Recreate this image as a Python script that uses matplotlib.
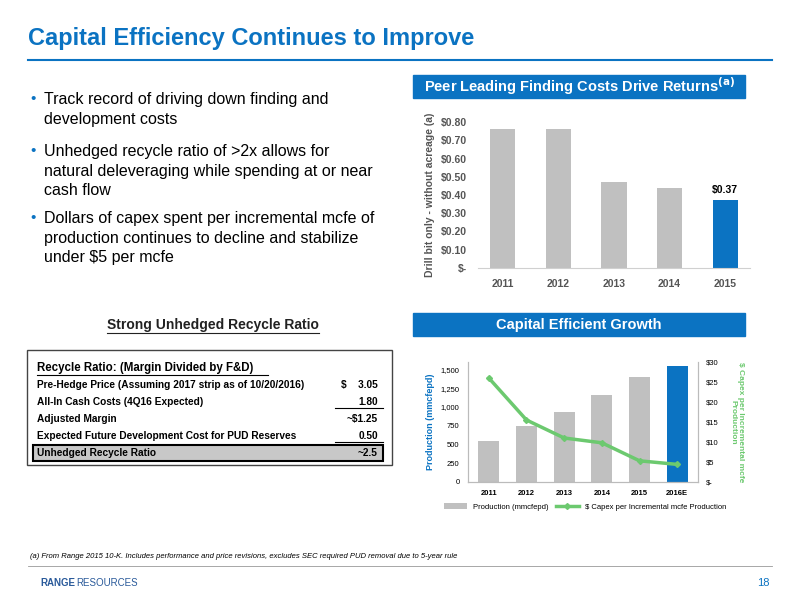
import numpy as np, matplotlib
matplotlib.use("Agg")
import matplotlib.pyplot as plt
from matplotlib.patches import Rectangle

plt.rcParams["font.family"] = ["Liberation Sans", "DejaVu Sans"]
BLUE = "#0b73c2"; GREY = "#c0c0c0"; GREEN = "#6cc96f"

fd_years = ["2011", "2012", "2013", "2014", "2015"]
fd_cost = [0.76, 0.76, 0.47, 0.44, 0.37]
prod_years = ["2011", "2012", "2013", "2014", "2015", "2016E"]
production = [550, 750, 930, 1160, 1400, 1550]
capex_per_mcfe = [26, 15.5, 11, 9.8, 5.3, 4.4]
table_rows = [("Pre-Hedge Price (Assuming 2017 strip as of 10/20/2016)", "$    3.05"),
              ("All-In Cash Costs (4Q16 Expected)", "1.80"),
              ("Adjusted Margin", "~$1.25"),
              ("Expected Future Development Cost for PUD Reserves", "0.50")]
bullets = ["Track record of driving down finding and\ndevelopment costs",
           "Unhedged recycle ratio of >2x allows for\nnatural deleveraging while spending at or near\ncash flow",
           "Dollars of capex spent per incremental mcfe of\nproduction continues to decline and stabilize\nunder $5 per mcfe"]

W, H = 800, 600
fig = plt.figure(figsize=(8, 6), dpi=100)
def fx(x): return x / W
def fy(y): return 1 - y / H

fig.text(fx(28), fy(38), "Capital Efficiency Continues to Improve", color=BLUE, fontsize=17,
         fontweight="bold", va="center")
fig.add_artist(plt.Line2D([fx(28), fx(772)], [fy(60), fy(60)], color=BLUE, lw=1.5))

ys = [92, 144, 211]
for y, b in zip(ys, bullets):
    fig.text(fx(30), fy(y), "•", color=BLUE, fontsize=11, va="top")
    fig.text(fx(44), fy(y), b, fontsize=11.5, va="top", linespacing=1.38)

# header boxes
for y0, label in [(75, "Peer Leading Finding Costs Drive Returns$^{\\mathbf{(a)}}$"), (313, "Capital Efficient Growth")]:
    fig.add_artist(Rectangle((fx(413), fy(y0 + 23)), fx(332), 23 / H, transform=fig.transFigure,
                             color=BLUE))
    fig.text(fx(579), fy(y0 + 11.5), label, color="white", fontsize=10.5, fontweight="bold",
             ha="center", va="center")

# top chart
ax = fig.add_axes([fx(478), fy(268), fx(272), 146 / H])
ax.bar(fd_years, fd_cost, width=0.45, color=[GREY] * 4 + [BLUE])
ax.text(4, fd_cost[-1] + 0.03, f"${fd_cost[-1]:.2f}", ha="center", va="bottom", fontsize=7.5, fontweight="bold")
ax.set_ylim(0, 0.8)
ax.set_yticks(np.arange(0, 0.81, 0.1))
ax.set_yticklabels(["$-"] + [f"${v:.2f}" for v in np.arange(0.1, 0.81, 0.1)])
ax.set_ylabel("Drill bit only - without acreage (a)", fontsize=7.5, color="#555555", fontweight="bold")
for s in ["top", "right", "left"]: ax.spines[s].set_visible(False)
ax.spines["bottom"].set_color("#d0d0d0")
ax.tick_params(length=0, labelsize=7.5, labelcolor="#555555", pad=8)
for t in ax.get_xticklabels() + ax.get_yticklabels(): t.set_fontweight("bold")

# bottom chart
ax2 = fig.add_axes([fx(468), fy(482), fx(230), 120 / H])
ax2.bar(prod_years, production, width=0.55, color=[GREY] * 5 + [BLUE], label="Production (mmcfepd)")
ax2.set_ylim(0, 1600)
ax2.set_yticks([0, 250, 500, 750, 1000, 1250, 1500])
ax2.set_yticklabels(["0", "250", "500", "750", "1,000", "1,250", "1,500"])
ax2.set_ylabel("Production (mmcfepd)", color=BLUE, fontsize=6.5, fontweight="bold")
ax3 = ax2.twinx()
ax3.plot(prod_years, capex_per_mcfe, color=GREEN, lw=2.5, marker="D", ms=3,
         label="$ Capex per Incremental mcfe Production")
ax3.set_ylim(0, 30)
ax3.set_yticks(range(0, 31, 5))
ax3.set_yticklabels(["$-"] + [f"${v}" for v in range(5, 31, 5)])
ax3.set_ylabel("$ Capex per Incremental mcfe\nProduction", color=GREEN, fontsize=6, rotation=270,
               labelpad=18, fontweight="bold")
for a in (ax2, ax3):
    a.spines["top"].set_visible(False)
    a.tick_params(length=0, labelsize=5.5, pad=6)
    a.spines["left"].set_color("#bbbbbb"); a.spines["right"].set_color("#bbbbbb")
    a.spines["bottom"].set_color("#bbbbbb")
for t in ax2.get_xticklabels(): t.set_fontweight("bold")
h1, l1 = ax2.get_legend_handles_labels(); h2, l2 = ax3.get_legend_handles_labels()
fig.legend(h1 + h2, l1 + l2, loc="center", bbox_to_anchor=(fx(585), fy(507)), ncol=2, frameon=False,
           fontsize=5.5, handlelength=3, columnspacing=1)

# table
fig.text(fx(213), fy(325), "Strong Unhedged Recycle Ratio", fontsize=10, fontweight="bold",
         ha="center", va="center", color="#222222")
fig.add_artist(plt.Line2D([fx(107), fx(319)], [fy(333), fy(333)], color="#222222", lw=0.8))
fig.add_artist(Rectangle((fx(27), fy(465)), fx(365), 115 / H, transform=fig.transFigure,
                         fill=False, ec="#444444", lw=1))
fig.text(fx(37), fy(368), "Recycle Ratio: (Margin Divided by F&D)", fontsize=8.3, fontweight="bold", va="center")
fig.add_artist(plt.Line2D([fx(37), fx(268)], [fy(375), fy(375)], color="black", lw=0.8))
for i, (lab, val) in enumerate(table_rows):
    y = 385 + i * 17
    fig.text(fx(37), fy(y), lab, fontsize=7.3, fontweight="bold", va="center")
    fig.text(fx(378), fy(y), val, fontsize=7.3, fontweight="bold", va="center", ha="right")
for y in (408, 442):
    fig.add_artist(plt.Line2D([fx(335), fx(383)], [fy(y), fy(y)], color="black", lw=0.8))
fig.add_artist(Rectangle((fx(33), fy(461)), fx(350), 16 / H, transform=fig.transFigure,
                         fc="#c8c8c8", ec="black", lw=1.5))
fig.text(fx(37), fy(453), "Unhedged Recycle Ratio", fontsize=7.3, fontweight="bold", va="center")
fig.text(fx(378), fy(453), "~2.5", fontsize=7.3, fontweight="bold", va="center", ha="right")

# footer
fig.text(fx(30), fy(557), "(a) From Range 2015 10-K. Includes performance and price revisions, excludes SEC required PUD removal due to 5-year rule",
         fontsize=5.5, style="italic", va="center")
fig.add_artist(plt.Line2D([fx(28), fx(772)], [fy(566), fy(566)], color="#999999", lw=0.6))
fig.text(fx(40), fy(583), "RANGE", color="#2a5a9a", fontsize=7, fontweight="bold", va="center")
fig.text(fx(76), fy(583), "RESOURCES", color="#2a5a9a", fontsize=7, va="center")
fig.text(fx(770), fy(583), "18", color=BLUE, fontsize=8, va="center", ha="right")

fig.savefig("out.png", dpi=100)
